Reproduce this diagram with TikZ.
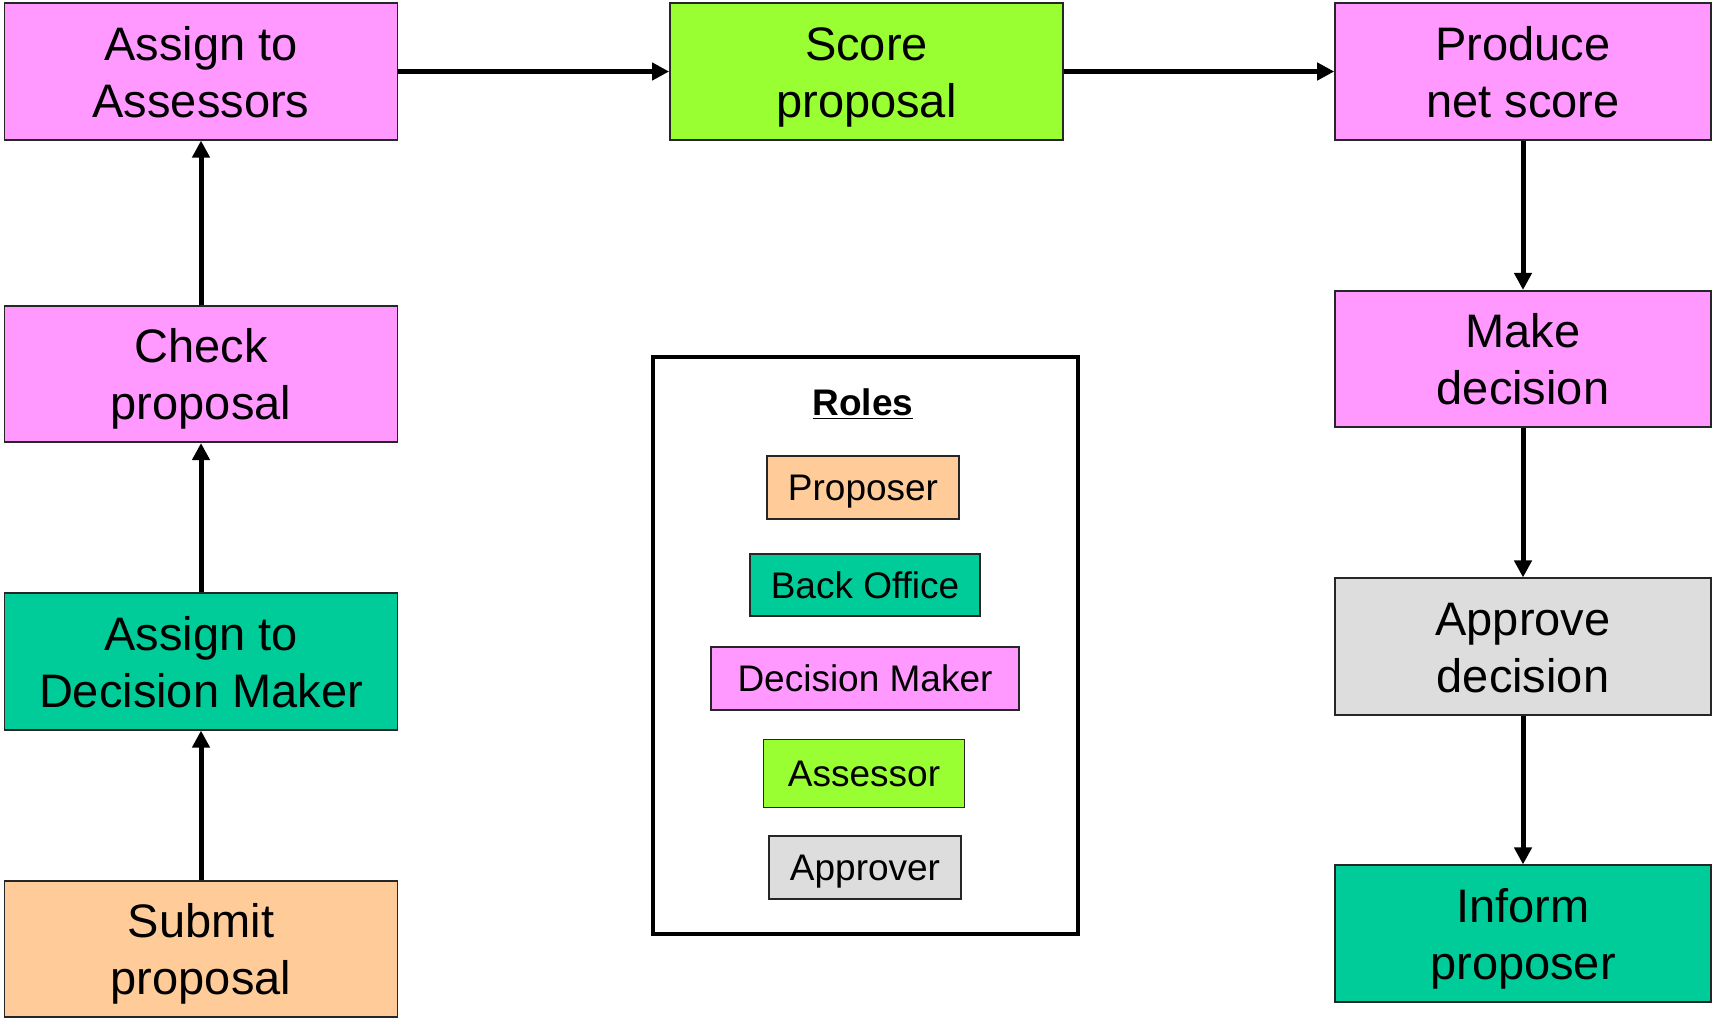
\documentclass[tikz,border=0pt]{standalone}
\usepackage{fontspec}
\setmainfont{Liberation Sans}
\usetikzlibrary{arrows.meta}
\definecolor{pinkc}{HTML}{FF99FF}
\definecolor{limec}{HTML}{99FF33}
\definecolor{tealc}{HTML}{00CC99}
\definecolor{peachc}{HTML}{FFCC99}
\definecolor{grayc}{HTML}{DDDDDD}
\begin{document}
\begin{tikzpicture}[x=0.5pt,y=-0.5pt,
  proc/.style={draw=black!85,line width=0.8pt,minimum width=196.5pt,minimum height=68.25pt,inner sep=0pt,align=center,text height=45.5pt,text depth=0pt,font=\fontsize{23.5}{28.5}\selectfont},
  role/.style={draw=black!85,line width=0.8pt,inner sep=0pt,text height=13.25pt,text depth=0pt,font=\fontsize{18.5}{22}\selectfont},
  flow/.style={-{Triangle[length=8.5pt,width=8.5pt]},line width=2.5pt}]
\useasboundingbox (0,0) rectangle (1713,1018);
% process boxes
\node[proc,fill=pinkc] (aa) at (201,71.5) {Assign to\\Assessors};
\node[proc,fill=limec] (sp) at (866.4,71.5) {Score\\proposal};
\node[proc,fill=pinkc,minimum width=188pt] (pns) at (1523,71.5) {Produce\\net score};
\node[proc,fill=pinkc] (cp) at (201,374) {Check\\proposal};
\node[proc,fill=tealc] (adm) at (201,661.5) {Assign to\\Decision Maker};
\node[proc,fill=peachc] (sub) at (201,949) {Submit\\proposal};
\node[proc,fill=pinkc,minimum width=188pt] (md) at (1523,359) {Make\\decision};
\node[proc,fill=grayc,minimum width=188pt] (ad) at (1523,646.5) {Approve\\decision};
\node[proc,fill=tealc,minimum width=188pt] (ip) at (1523,933.5) {Inform\\proposer};
% connectors
\draw[flow] (sub) -- (adm);
\draw[flow] (adm) -- (cp);
\draw[flow] (cp) -- (aa);
\draw[flow] (aa) -- (sp);
\draw[flow] (sp) -- (pns.west |- sp);
\draw[flow] (pns) -- (md);
\draw[flow] (md) -- (ad);
\draw[flow] (ad) -- (ip);
% legend
\node[draw=black,line width=1.6pt,minimum width=212.5pt,minimum height=288.5pt,inner sep=0pt] (legend) at (865.5,645.5) {};
\node[font=\fontsize{18.5}{22}\selectfont\bfseries,inner sep=0pt] (title) at (863,404) {\underline{Roles}};
\node[role,fill=peachc,minimum width=96pt,minimum height=31.5pt] (rp) at (863,487.3) {Proposer};
\node[role,fill=tealc,minimum width=115.25pt,minimum height=31pt] (rb) at (865,585) {Back Office};
\node[role,fill=pinkc,minimum width=154pt,minimum height=31.5pt] (rd) at (865,678.5) {Decision Maker};
\node[role,fill=limec,minimum width=100.5pt,minimum height=34pt] (ra) at (864,773.5) {Assessor};
\node[role,fill=grayc,minimum width=96.2pt,minimum height=31.6pt] (rv) at (865,867.4) {Approver};
\end{tikzpicture}
\end{document}
